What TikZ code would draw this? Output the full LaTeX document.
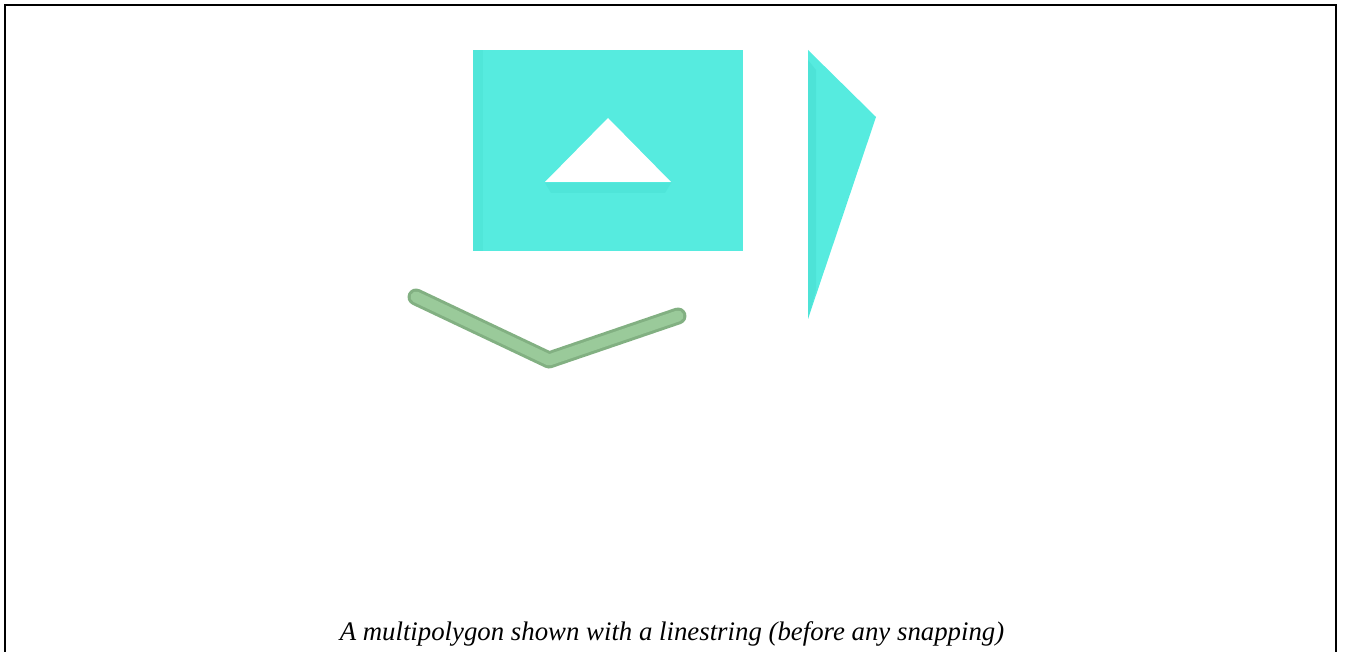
\documentclass[tikz,border=0pt]{standalone}
\usepackage{fontspec}
\setmainfont{Liberation Serif}
\definecolor{turq}{HTML}{56EBDF}
\definecolor{turqdark}{HTML}{45DDD0}
\definecolor{sea}{HTML}{9ACA9A}
\definecolor{seadark}{HTML}{82B082}
\begin{document}
\begin{tikzpicture}[x=0.5pt,y=-0.5pt,
  polyfill/.style={fill=turq,draw=none},
  holefill/.style={fill=white,draw=none},
  framestyle/.style={draw=black,line width=1pt},
  roadline/.style={line width=8.5pt,line cap=round,line join=round},
  captionstyle/.style={font=\itshape\fontsize{13.4}{16}\selectfont,anchor=base,inner sep=0pt}]
\useasboundingbox (0,0) rectangle (1346,652);
% frame
\draw[framestyle] (5,652) -- (5,5) -- (1336,5) -- (1336,652);
% rectangle with hole
\coordinate (r1) at (473,50);
\coordinate (r2) at (743,251);
\coordinate (h1) at (608,118);
\coordinate (h2) at (545,182);
\coordinate (h3) at (671,182);
\fill[polyfill] (r1) rectangle (r2);
\fill[turqdark,opacity=0.35] (473,50) rectangle (483,251);
\fill[turqdark,opacity=0.4] (545,183) -- (671,183) -- (665,193) -- (551,193) -- cycle;
\fill[holefill] (h1) -- (h2) -- (h3) -- cycle;
% triangle
\coordinate (t1) at (808,50);
\coordinate (t2) at (876,117);
\coordinate (t3) at (808,319);
\fill[polyfill] (t1) -- (t2) -- (t3) -- cycle;
\fill[turqdark,opacity=0.5] (808,60) -- (816,70) -- (816,290) -- (808,319) -- cycle;
% linestring
\coordinate (l1) at (416,297);
\coordinate (l2) at (549,360);
\coordinate (l3) at (678,316);
\draw[roadline,draw=seadark] (l1) -- (l2) -- (l3);
\draw[roadline,draw=sea,line width=5.5pt,yshift=-1pt] (l1) -- (l2) -- (l3);
% caption
\node[captionstyle] (cap) at (672,640) {A multipolygon shown with a linestring (before any snapping)};
\end{tikzpicture}
\end{document}
